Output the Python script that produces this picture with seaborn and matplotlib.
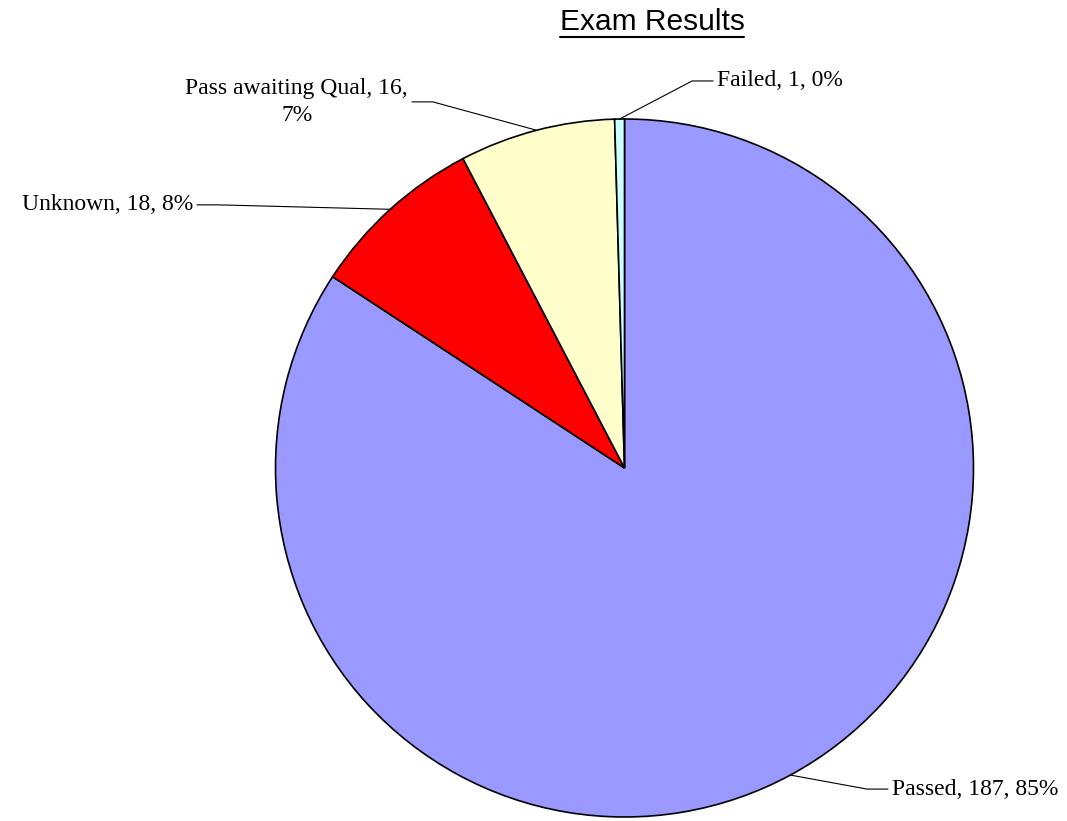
import matplotlib
matplotlib.use("Agg")
import matplotlib.pyplot as plt
import seaborn as sns
import numpy as np
from matplotlib.lines import Line2D

# data
labels = ["Passed", "Unknown", "Pass awaiting Qual", "Failed"]
counts = [187, 18, 16, 1]
percents = [85, 8, 7, 0]
colors = ["#9999FF", "#FF0000", "#FFFFCC", "#CCFFFF"]

# label layout (pie units): where the leader line ends, and which side
label_pos = [(0.755, -0.920), (-1.225, 0.754), (-0.609, 1.049), (0.254, 1.109)]
label_side = ["left", "right", "right", "left"]
label_text = ["Passed, 187, 85%", "Unknown, 18, 8%", "Pass awaiting Qual, 16,\n7%", "Failed, 1, 0%"]

sns.set_theme(style="white")
plt.rcParams["font.family"] = ["Liberation Serif", "DejaVu Serif"]

W, H = 1067, 821
cx, cy, R = 624.5, 468, 349
fig = plt.figure(figsize=(W / 100, H / 100), dpi=100)
ax = fig.add_axes([0, 0, 1, 1])

wedges, _ = ax.pie(counts, colors=colors, startangle=90, counterclock=False,
                   wedgeprops=dict(edgecolor="black", linewidth=1.2))
ax.set_xlim(-cx / R, (W - cx) / R)
ax.set_ylim(-(H - cy) / R, cy / R)
ax.set_aspect("equal")
ax.axis("off")

# leader lines from the middle of each wedge edge to the label
seg = 21 / R
gap = 4 / R
for w, (ex, ey), side, txt in zip(wedges, label_pos, label_side, label_text):
    mid = np.deg2rad((w.theta1 + w.theta2) / 2)
    ax0, ay0 = np.cos(mid), np.sin(mid)
    if side == "left":
        elbow = ex - seg
        tx = ex + gap
    else:
        elbow = ex + seg
        tx = ex - gap
    ax.plot([ax0, elbow, ex], [ay0, ey, ey], color="black", lw=0.8, clip_on=False)
    ax.text(tx, ey, txt, ha=side, va="center", multialignment="center",
            fontsize=17, color="black", linespacing=1.4)

title = fig.text(652 / W, 1 - 22 / H, "Exam Results", ha="center", va="center",
                 fontsize=21.5, family="Liberation Sans", color="black")

# underline the title
fig.canvas.draw()
bb = title.get_window_extent()
uy = (bb.y0 - 1) / H
fig.add_artist(Line2D([bb.x0 / W, bb.x1 / W], [uy, uy], color="black", lw=1.5,
                      transform=fig.transFigure))

fig.savefig("out.png", dpi=100, facecolor="white")
